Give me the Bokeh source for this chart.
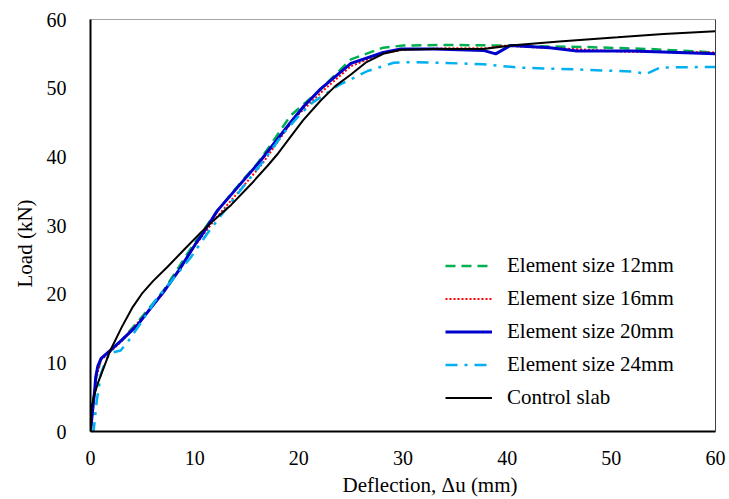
from bokeh.plotting import figure
from bokeh.models import Legend, LegendItem, LinearAxis, FixedTicker, Title
from bokeh.embed import file_html
from bokeh.resources import INLINE

# ---- data ----
x12 = [0, 0.2, 0.5, 1, 1.9, 3, 5, 7, 10, 12, 14, 16, 17.5, 19.2, 21.8, 25, 28.1, 30, 34.5, 39.6, 43, 47.3, 53.7, 60]
y12 = [0, 3, 7.5, 10.5, 11.7, 13.3, 16.8, 20.5, 27.5, 31.8, 35.5, 39, 42.2, 46.0, 49.4, 54.2, 55.9, 56.2, 56.3, 56.2, 56.1, 56.0, 55.7, 55.2]

x16 = [0, 0.2, 0.5, 1, 1.9, 3, 5, 7, 10, 12, 13.7, 16.5, 19.5, 22.3, 25, 28.1, 30, 34, 38, 39.6, 42, 45, 51.5, 60]
y16 = [0, 3, 7.5, 10.4, 11.6, 13.2, 16.6, 20.2, 27.0, 31.0, 34.0, 39.0, 45.5, 49.6, 53.2, 55.1, 55.6, 55.8, 55.8, 56.2, 56.0, 55.8, 55.3, 55.2]

x20 = [0, 0.2, 0.4, 0.5, 0.7, 1, 1.9, 3, 4.5, 5.8, 7, 8.5, 10.2, 10.6, 12.2, 16.3, 19.2, 20.5, 22.1, 25, 28.1, 29.8, 33, 37.7, 38.9, 40.3, 44.1, 46.7, 52, 60]
y20 = [0, 3, 6, 7.9, 9.5, 10.6, 11.8, 13.3, 15.5, 18, 20.3, 23.5, 27.6, 28.4, 32.2, 39.4, 45.0, 47.4, 49.9, 53.6, 55.2, 55.7, 55.7, 55.5, 55.0, 56.2, 55.9, 55.4, 55.4, 55.0]

x24 = [0, 0.3, 0.6, 1, 1.5, 1.9, 2.9, 3.8, 5, 6.2, 9.6, 11.2, 13.1, 15.1, 16.6, 18.5, 20.2, 21.3, 23.8, 26.6, 29.1, 31, 37.7, 41, 47.3, 52.1, 53.4, 54.7, 60]
y24 = [0, 0.1, 4.5, 8.4, 10.5, 11.4, 11.8, 13.5, 16.2, 19, 25.3, 28.8, 32.6, 36.5, 39.4, 43.4, 46.3, 47.9, 50.4, 52.5, 53.7, 53.8, 53.5, 53.0, 52.7, 52.4, 52.1, 53.0, 53.1]

xc = [0, 0.1, 0.3, 0.7, 1.2, 1.9, 3, 4, 5, 6, 7.4, 9, 10.6, 12, 13.5, 15.4, 17, 17.9, 19, 20.4, 22.1, 23.5, 25, 26.5, 28.1, 29.8, 33, 37.7, 40.3, 45, 50.6, 55, 60]
yc = [0, 3.5, 5, 7, 9, 11.8, 15.2, 18.0, 20.2, 21.9, 24, 26.5, 29, 31, 33, 36, 38.7, 40.3, 42.5, 45.3, 48.2, 50.3, 52, 53.8, 55, 55.6, 55.7, 55.7, 56.2, 56.8, 57.4, 57.9, 58.3]

ticks = [0, 10, 20, 30, 40, 50, 60]
labels = ["Element size 12mm", "Element size 16mm", "Element size 20mm", "Element size 24mm", "Control slab"]
x_title = "Deflection, Δu (mm)"
y_title = "Load (kN)"

FONT = "Liberation Serif"

p = figure(width=729, height=499, output_backend="svg", toolbar_location=None,
           x_range=(0, 60), y_range=(0, 60),
           min_border_left=90, min_border_right=14, min_border_top=19, min_border_bottom=68)

p.xgrid.visible = False
p.ygrid.visible = False
p.background_fill_color = "white"
p.border_fill_color = "white"
p.outline_line_color = "#a6a6a6"
p.outline_line_width = 1

for ax in (p.xaxis[0], p.yaxis[0]):
    ax.ticker = FixedTicker(ticks=ticks)
    ax.major_tick_line_color = None
    ax.minor_tick_line_color = None
    ax.axis_line_color = "black"
    ax.axis_line_width = 2
    ax.major_label_text_font = FONT
    ax.major_label_text_font_size = "20px"
    ax.major_label_text_color = "black"

p.xaxis[0].major_label_standoff = 13
p.yaxis[0].major_label_standoff = 18

xt = Title(text=x_title, align="left", offset=252, standoff=6,
           text_font=FONT, text_font_size="21px", text_font_style="normal", text_color="black")
p.add_layout(xt, "below")
yt = Title(text=y_title, align="left", offset=144, standoff=14,
           text_font=FONT, text_font_size="21px", text_font_style="normal", text_color="black")
p.add_layout(yt, "left")

right = LinearAxis(ticker=FixedTicker(ticks=[]), major_tick_line_color=None,
                   minor_tick_line_color=None, major_label_text_font_size="0px",
                   axis_line_color="#404040", axis_line_width=1)
p.add_layout(right, "right")

r12 = p.line(x12, y12, line_color="#00B050", line_width=2.5, line_dash="10 6")
r16 = p.line(x16, y16, line_color="#FF0000", line_width=2, line_dash="2 2")
r20 = p.line(x20, y20, line_color="#0000CC", line_width=3)
r24 = p.line(x24, y24, line_color="#00B0F0", line_width=2.5, line_dash="12 7 3 7")
rc = p.line(xc, yc, line_color="black", line_width=2)

legend = Legend(items=[LegendItem(label=l, renderers=[r]) for l, r in zip(labels, [r12, r16, r20, r24, rc])],
                location=(355, 17), padding=0, margin=0, spacing=0,
                glyph_width=47, glyph_height=33, label_height=33, label_standoff=15,
                label_text_font=FONT, label_text_font_size="21px", label_text_color="black",
                border_line_color=None, background_fill_alpha=0)
p.add_layout(legend)

open("out.html", "w").write(file_html(p, INLINE))
